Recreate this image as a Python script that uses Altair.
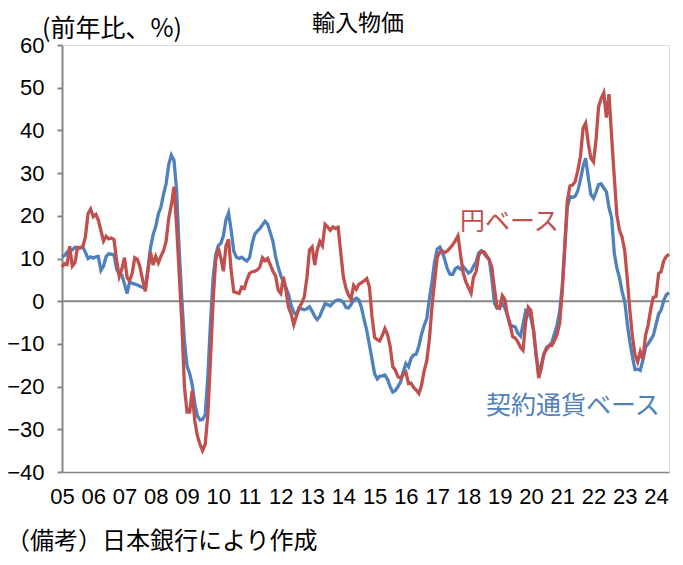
import altair as alt
import pandas as pd

# Year-over-year change of Japan's import price index (%), monthly, Jan 2005 - Jun 2024
yen_basis = [
    8.0, 8.8, 8.6, 12.9, 8.2, 9.0, 12.6, 12.5, 12.8, 15.0, 20.5, 21.6,          # 2005
    19.8, 20.3, 19.0, 16.5, 14.1, 15.2, 14.6, 14.8, 14.4, 9.5, 5.8, 7.5,        # 2006
    10.2, 5.5, 4.8, 6.5, 10.2, 9.8, 8.0, 5.0, 2.3, 7.0, 11.5, 8.5,              # 2007
    10.5, 9.0, 10.5, 11.8, 14.0, 19.5, 22.5, 26.8, 17.6, 6.5, -5.0, -20.0,      # 2008
    -26.0, -26.0, -21.0, -28.0, -31.5, -33.5, -35.0, -33.5, -26.5, -14.0, 0.0, 9.5,  # 2009
    12.5, 10.0, 7.0, 13.0, 14.5, 7.0, 2.2, 2.0, 1.8, 3.3, 3.0, 5.0,             # 2010
    6.5, 6.9, 7.0, 7.3, 8.0, 10.2, 9.5, 10.0, 8.5, 7.0, 6.0, 2.6,               # 2011
    1.8, 5.7, 2.6, -1.5, -3.0, -5.5, -3.5, -1.5, -0.5, 1.0, 5.5, 12.0,          # 2012
    12.7, 8.5, 12.0, 14.0, 13.0, 18.0, 17.4, 16.6, 17.4, 17.0, 17.3, 11.5,      # 2013
    5.7, 3.0, 1.5, 0.5, 3.7, 2.8, 4.0, 4.3, 4.8, 5.3, 3.4, -3.5,                # 2014
    -8.5, -9.0, -9.3, -8.0, -6.4, -7.8, -10.5, -15.3, -16.2, -17.7, -18.0, -17.2,  # 2015
    -16.6, -19.3, -19.2, -20.2, -20.8, -21.6, -19.8, -16.4, -14.0, -9.1, -1.3, 4.5,  # 2016
    10.2, 11.5, 11.8, 11.4, 11.8, 12.5, 13.2, 14.2, 15.3, 10.8, 6.6, 4.6,       # 2017
    3.2, 1.9, 5.6, 7.0, 10.7, 11.7, 11.6, 10.7, 9.6, 8.0, 3.0, -1.5,            # 2018
    -1.7, 1.3, 0.5, -3.3, -5.2, -8.3, -8.6, -9.5, -10.8, -11.5, -4.8, -1.4,     # 2019
    -2.2, -7.0, -12.3, -18.0, -15.6, -12.3, -11.3, -10.4, -10.4, -9.3, -7.8, -5.3,  # 2020
    2.3, 13.5, 23.5, 27.0, 27.2, 28.0, 30.6, 33.8, 40.5, 41.7, 37.0, 33.5,      # 2021
    32.6, 38.0, 45.5, 47.5, 48.8, 43.0, 48.5, 38.5, 29.0, 20.2, 16.6, 15.0,     # 2022
    11.8, 5.0, -2.0, -8.3, -12.6, -14.2, -11.8, -13.5, -8.0, -5.6, -1.8, 0.9,   # 2023
    1.1, 6.5, 6.9, 9.5, 10.5, 11.0,                                            # 2024
]
contract_basis = [
    10.4, 10.7, 11.5, 12.0, 12.0, 12.6, 12.4, 12.5, 12.7, 11.5, 10.0, 10.4,     # 2005
    10.1, 10.4, 10.5, 7.2, 8.2, 10.5, 11.1, 11.0, 10.8, 7.5, 6.3, 6.1,          # 2006
    4.0, 1.8, 4.5, 4.2, 4.0, 3.8, 3.5, 3.2, 3.0, 7.5, 12.5, 15.5,               # 2007
    17.5, 20.5, 22.0, 25.0, 27.5, 32.0, 34.2, 33.0, 26.0, 12.1, 0.4, -9.3,      # 2008
    -15.2, -17.0, -19.4, -24.0, -26.8, -27.8, -27.7, -26.6, -17.5, -5.3, 5.4, 10.8,  # 2009
    13.0, 13.6, 15.3, 19.1, 20.7, 16.5, 11.7, 10.3, 10.0, 10.3, 9.8, 9.4,       # 2010
    10.2, 13.5, 15.6, 16.4, 17.0, 17.9, 18.7, 18.0, 16.0, 14.0, 10.5, 8.0,      # 2011
    6.0, 4.5, 3.2, 1.5, -1.0, -2.5, -3.3, -1.6, -1.8, -2.0, -1.8, -1.3,         # 2012
    -2.3, -3.6, -4.3, -3.5, -2.0, -0.6, -0.8, -1.1, -0.4, 0.1, 0.3, 0.2,        # 2013
    -0.3, -1.5, -1.6, -0.8, 0.3, 0.7, 0.3, -1.5, -4.4, -6.8, -10.2, -13.5,      # 2014
    -17.0, -18.2, -17.6, -17.5, -17.3, -18.3, -20.0, -21.3, -20.9, -20.0, -18.9, -16.5,  # 2015
    -14.6, -15.4, -13.4, -12.6, -12.4, -10.5, -7.8, -5.7, -4.1, 0.4, 4.5, 9.2,  # 2016
    12.2, 12.7, 11.6, 9.6, 7.5, 6.3, 6.3, 7.6, 8.0, 7.5, 8.1, 7.4,              # 2017
    6.6, 7.0, 8.2, 9.2, 11.3, 11.8, 11.2, 10.4, 9.8, 5.5, -0.5, -1.6,           # 2018
    -1.3, -0.6, -1.5, -3.2, -5.6, -5.8, -6.0, -7.5, -8.2, -5.5, -2.2, -2.6,     # 2019
    -4.0, -6.8, -12.5, -16.8, -14.8, -12.5, -10.8, -10.4, -9.6, -7.7, -5.6, -2.5,  # 2020
    3.5, 13.0, 22.0, 24.5, 24.3, 24.6, 25.8, 28.5, 31.5, 33.5, 29.0, 25.0,      # 2021
    24.1, 25.6, 27.3, 27.5, 26.5, 25.6, 21.9, 19.5, 11.2, 7.8, 5.5, 2.2,        # 2022
    0.0, -5.5, -9.5, -13.0, -16.0, -15.9, -16.2, -13.8, -10.8, -10.0, -9.0, -8.0,  # 2023
    -5.5, -3.0, -2.1, 0.2, 1.5, 2.0,                                           # 2024
]
tick_years = list(range(2005, 2025))
y_ticks = list(range(-40, 61, 10))

RED = "#C0504D"
BLUE = "#4F81BD"
NUM_FONT = "Liberation Sans"
JP_FONT = "Noto Sans CJK JP"

dates = pd.date_range("2005-01-01", periods=len(yen_basis), freq="MS")
df = pd.DataFrame({"date": dates.strftime("%Y-%m-%d"), "yen": yen_basis, "contract": contract_basis})

x_enc = alt.X(
    "date:T",
    scale=alt.Scale(domain=[alt.DateTime(year=2005, month=1, date=1),
                            alt.DateTime(year=2024, month=6, date=1)]),
    axis=alt.Axis(
        values=[alt.DateTime(year=y, month=1, date=1) for y in tick_years],
        format="%y", title=None, grid=False, ticks=False,
        labelFont=NUM_FONT, labelFontSize=22, labelColor="#000000",
        labelPadding=14, domainColor="#868686", domainWidth=1.5,
        labelOverlap=False, labelFlush=False,
    ),
)
y_scale = alt.Scale(domain=[-40, 60], nice=False, zero=False)
y_axis = alt.Axis(
    values=y_ticks, title=None, grid=False, tickSize=5, tickColor="#868686",
    tickWidth=2, domainColor="#868686", domainWidth=2,
    labelFont=NUM_FONT, labelFontSize=22, labelColor="#000000", labelPadding=13,
)

base = alt.Chart(df)

zero = alt.Chart(pd.DataFrame({"z": [0]})).mark_rule(color="#868686", strokeWidth=2).encode(
    y=alt.Y("z:Q", scale=y_scale, axis=y_axis)
)
blue_line = base.mark_line(color=BLUE, strokeWidth=3.3).encode(
    x=x_enc, y=alt.Y("contract:Q", scale=y_scale, axis=y_axis)
)
red_line = base.mark_line(color=RED, strokeWidth=3.3).encode(
    x=x_enc, y=alt.Y("yen:Q", scale=y_scale, axis=y_axis)
)

def label(txt, px, py, color="#000000", size=22, align="left"):
    return alt.Chart(pd.DataFrame({"t": [txt]})).mark_text(
        font=JP_FONT, fontSize=size, color=color, align=align, baseline="middle"
    ).encode(x=alt.value(px), y=alt.value(py), text="t:N")

texts = [
    label("輸入物価", 296, -21, size=23, align="center"),
    label("(前年比、%)", -20, -16, size=25),
    label("円ベース", 398, 177, color=RED, size=25),
    label("契約通貨ベース", 424, 361, color=BLUE, size=25),
    label("（備考）日本銀行により作成", -56, 497, size=24),
]

chart = alt.layer(zero, blue_line, red_line, *texts).properties(
    width=607, height=427,
    padding={"left": 54, "top": 37, "right": 6, "bottom": 92},
    autosize="none",
).configure_view(stroke="#404040", strokeWidth=1.5).configure(background="white")

chart.save("out.html", embed_options={"renderer": "svg", "actions": False})
